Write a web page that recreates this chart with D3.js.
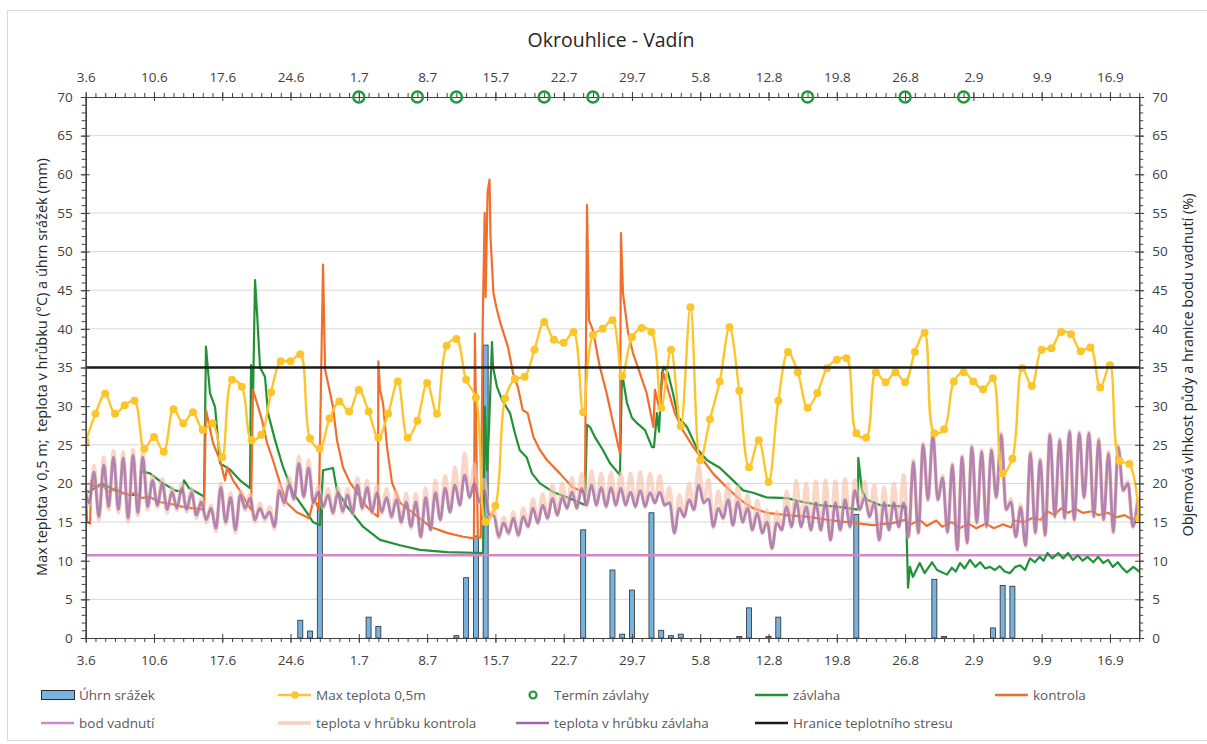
<!DOCTYPE html>
<html>
<head>
<meta charset="utf-8">
<script src="https://cdn.jsdelivr.net/npm/d3@7"></script>
<style>
  body { margin: 0; background: #fff; }
  svg { display: block; font-family: "Open Sans", "Liberation Sans", sans-serif; }
</style>
</head>
<body>
<div id="chart"></div>
<script>
// days are counted from 3.6.
var startDay = Date.UTC(2023, 5, 3);
var lastDay = 108;
var tickDays = [0, 7, 14, 21, 28, 35, 42, 49, 56, 63, 70, 77, 84, 91, 98, 105];
var tickLabels = ["3.6", "10.6", "17.6", "24.6", "1.7", "8.7", "15.7", "22.7", "29.7", "5.8", "12.8", "19.8", "26.8", "2.9", "9.9", "16.9"];
var yTicks = [0, 5, 10, 15, 20, 25, 30, 35, 40, 45, 50, 55, 60, 65, 70];
var gridValues = [5, 15, 20, 25, 35, 40, 45, 50, 55, 65];

// Úhrn srážek (mm)
var rainDays = [22, 23, 24, 29, 30, 38, 39, 40, 41, 51, 54, 55, 56, 58, 59, 60, 61, 67, 68, 70, 71, 79, 87, 88, 93, 94, 95];
var rainMm = [2.3, 0.9, 17.4, 2.7, 1.5, 0.3, 7.8, 13.2, 37.9, 14.0, 8.8, 0.5, 6.2, 16.2, 1.0, 0.3, 0.5, 0.2, 3.9, 0.2, 2.7, 16.0, 7.6, 0.2, 1.3, 6.8, 6.7];

// Max teplota 0,5m, one value a day
var maxTemp = [
  25.4, 29.0, 31.6, 29.0, 30.1, 30.7, 24.5, 26.0, 24.1, 29.6,
  27.8, 29.2, 26.9, 27.8, 23.4, 33.4, 32.5, 25.6, 26.3, 31.8,
  35.8, 35.8, 36.7, 25.8, 24.5, 28.4, 30.6, 29.3, 32.1, 29.3,
  25.9, 29.0, 33.2, 25.9, 28.1, 33.0, 29.0, 37.8, 38.7, 33.4,
  31.1, 15.0, 17.1, 31.0, 33.5, 33.8, 37.3, 40.9, 38.6, 38.2,
  39.6, 29.2, 39.2, 40.0, 41.1, 33.9, 38.9, 40.1, 39.6, 29.8,
  37.3, 27.4, 42.8, 23.0, 28.3, 33.2, 40.2, 32.0, 22.1, 25.6,
  20.2, 30.7, 37.0, 34.4, 29.8, 31.7, 34.9, 36.0, 36.2, 26.5,
  25.9, 34.4, 33.1, 34.4, 33.1, 37.0, 39.5, 26.5, 27.0, 33.2,
  34.4, 33.2, 32.2, 33.6, 21.3, 23.2, 34.9, 32.6, 37.3, 37.5,
  39.6, 39.3, 37.1, 37.6, 32.4, 35.3, 22.9, 22.5, 15.5
];

// Termín závlahy
var irrigationDays = [28, 34, 38, 47, 52, 74, 84, 90];

// teplota v hrůbku závlaha: daily peak (evening) and daily low (midday after)
var bedTempIrrMax = [
  20.0, 21.5, 22.4, 23.4, 23.3, 23.7, 23.4, 20.4, 20.0, 18.9,
  19.4, 18.8, 17.6, 16.8, 19.5, 18.2, 18.5, 18.1, 16.8, 16.3,
  19.1, 19.8, 22.6, 22.0, 18.9, 18.5, 18.8, 18.5, 19.8, 19.5,
  18.8, 18.2, 17.9, 17.6, 17.6, 18.2, 18.8, 19.4, 19.8, 21.1,
  20.0, 19.1, 15.8, 14.9, 15.5, 15.7, 16.8, 17.2, 18.1, 18.2,
  18.9, 19.4, 19.8, 19.5, 19.5, 19.4, 18.9, 19.1, 18.8, 18.9,
  17.5, 16.8, 17.9, 19.8, 18.0, 16.8, 17.9, 17.6, 16.8, 16.2,
  15.0, 14.9, 17.0, 17.6, 17.0, 17.5, 17.6, 17.5, 17.9, 19.1,
  18.2, 17.5, 17.5, 17.5, 17.5, 22.8, 25.0, 26.3, 20.7, 22.4,
  23.4, 24.7, 24.1, 24.3, 26.3, 17.6, 16.9, 23.9, 23.0, 26.3,
  25.6, 26.7, 26.5, 26.5, 25.6, 23.9, 24.7, 20.0, 17.9
];
var bedTempIrrMin = [
  17.5, 15.7, 17.0, 16.6, 15.5, 16.2, 17.0, 17.2, 16.6, 16.8,
  16.6, 15.9, 15.3, 14.2, 15.0, 14.0, 16.8, 15.3, 15.5, 14.4,
  17.5, 18.0, 18.3, 17.5, 17.0, 16.2, 16.4, 16.2, 16.8, 16.3,
  16.3, 15.7, 15.0, 14.4, 13.1, 14.0, 15.3, 16.3, 17.2, 18.2,
  17.6, 16.0, 13.1, 13.6, 13.3, 14.4, 14.9, 15.5, 15.9, 16.8,
  16.8, 17.2, 17.2, 17.0, 17.2, 17.2, 17.0, 17.0, 17.5, 17.2,
  13.6, 15.7, 16.6, 17.5, 14.4, 15.5, 14.6, 15.0, 14.0, 13.6,
  11.6, 14.0, 14.4, 14.4, 14.0, 14.0, 12.7, 14.0, 14.4, 16.6,
  15.7, 12.7, 14.0, 14.4, 13.1, 13.6, 17.9, 17.9, 13.7, 11.4,
  12.3, 14.9, 14.4, 18.2, 16.6, 13.1, 12.0, 13.6, 13.3, 15.7,
  15.5, 15.3, 18.2, 15.7, 15.3, 13.7, 19.1, 14.4
];

// teplota v hrůbku kontrola
var bedTempCtrlMax = [
  20.5, 22.3, 23.4, 24.2, 24.0, 24.4, 24.2,
  21.0, 20.6, 19.5, 20.0, 19.3, 18.0, 17.2,
  20.0, 18.8, 19.0, 18.6, 17.4, 17.0, 19.8,
  20.8, 23.5, 23.0, 19.6, 19.3, 19.5, 19.3,
  20.7, 20.4, 19.7, 19.3, 19.0, 18.7, 18.7,
  19.4, 20.4, 21.0, 22.1, 23.9, 22.5, 20.5,
  16.5, 15.6, 16.3, 16.8, 18.0, 18.6, 19.8,
  20.0, 20.7, 21.3, 21.6, 21.3, 21.4, 21.3,
  21.3, 21.5, 21.3, 21.0, 19.5, 18.5, 20.0,
  22.4, 20.5, 19.0, 20.0, 19.6, 18.5, 17.8,
  16.5, 16.3, 19.0, 20.4, 20.0, 20.3, 20.4,
  20.3, 20.6, 20.5, 20.3, 19.8, 19.5, 20.0,
  21.1, 23.0, 25.2, 26.5, 21.0, 22.6, 23.6,
  24.9, 24.3, 24.5, 26.5, 18.0, 17.3, 24.1,
  23.2, 26.5, 25.8, 26.9, 26.7, 26.7, 25.8,
  24.1, 24.9, 20.3, 18.2
];
var bedTempCtrlMin = [
  17.2, 15.3, 16.6, 16.2, 15.0, 15.8, 16.6,
  16.9, 16.2, 16.5, 16.3, 15.5, 14.9, 13.8,
  14.7, 13.6, 16.5, 15.0, 15.2, 14.1, 17.2,
  17.8, 18.1, 17.3, 16.8, 16.0, 16.2, 16.0,
  16.6, 16.1, 16.1, 15.5, 14.8, 14.2, 13.0,
  13.9, 15.2, 16.2, 17.1, 18.1, 17.5, 15.8,
  12.9, 13.4, 13.2, 14.3, 14.8, 15.4, 15.8,
  16.7, 16.7, 17.1, 17.1, 16.9, 17.1, 17.1,
  16.9, 16.9, 17.4, 17.1, 13.5, 15.6, 16.5,
  17.4, 14.3, 15.4, 14.5, 14.9, 13.9, 13.5,
  11.5, 13.9, 14.3, 14.3, 13.9, 13.9, 12.6,
  13.9, 14.3, 16.5, 15.6, 12.6, 13.9, 14.3,
  13.0, 13.5, 17.8, 17.8, 13.6, 11.3, 12.2,
  14.8, 14.3, 18.1, 16.5, 13.0, 11.9, 13.5,
  13.2, 15.6, 15.4, 15.2, 18.1, 15.6, 15.2,
  13.6, 19.0, 14.3
];

// závlaha: soil moisture (%), [day, value]
var moistIrr = [
  [0, 19.1], [0.34, 18.9], [1.67, 20.0], [3.0, 19.1], [4.44, 18.5], [5.57, 18.5], [5.67, 21.6],
  [6.59, 21.3], [7.82, 20.1], [9.15, 19.1], [9.87, 18.9], [10.08, 20.4], [10.59, 19.4], [12.13, 18.3],
  [12.33, 37.7], [12.74, 31.7], [13.26, 29.9], [13.77, 22.6], [14.79, 21.8], [15.82, 20.4], [16.84, 19.4],
  [16.95, 35.3], [17.15, 31.0], [17.36, 46.3], [17.56, 42.2], [17.87, 35.0], [18.38, 33.8], [18.69, 29.1],
  [19.41, 25.6], [20.23, 22.1], [21.25, 18.8], [22.69, 16.2], [23.3, 15.0], [24.02, 14.6], [24.33, 21.7],
  [25.35, 22.0], [25.76, 19.1], [26.79, 17.0], [28.43, 14.4], [30.17, 12.7], [32.22, 12.0], [34.27, 11.4],
  [37.04, 11.1], [40.73, 11.0], [40.93, 29.9], [41.14, 21.7], [41.34, 26.9], [41.65, 38.3], [41.75, 35.1],
  [42.16, 32.5], [42.68, 30.8], [43.5, 29.1], [44.0, 26.5], [44.5, 24.3], [45.2, 23.4], [45.75, 21.3],
  [46.57, 20.0], [47.9, 18.9], [49.34, 18.2], [51.18, 17.2], [51.39, 27.6], [51.7, 27.3], [52.2, 26.0],
  [53.03, 24.3], [53.75, 22.6], [54.77, 21.1], [54.98, 34.3], [55.49, 30.4], [56.0, 28.5], [56.52, 27.8],
  [57.34, 26.9], [58.05, 24.7], [58.26, 24.7], [58.56, 29.1], [58.77, 26.7], [59.08, 34.3], [59.28, 35.1],
  [59.69, 34.3], [60.2, 31.7], [60.72, 28.6], [61.64, 27.3], [62.67, 24.5], [63.7, 23.0], [65.03, 22.0],
  [66.36, 20.4], [67.4, 19.1], [68.4, 18.8], [69.8, 18.2], [71.9, 18.1], [73.5, 17.6], [75.27, 17.2],
  [77.0, 17.0], [79.17, 16.6], [79.2, 23.3], [79.58, 19.1], [80.1, 17.9], [81.42, 17.2], [84.09, 17.0],
  [84.3, 6.5], [84.5, 9.2], [84.8, 7.9], [85.5, 9.7], [86.0, 8.4], [86.76, 9.8], [87.27, 8.8],
  [88.3, 8.2], [88.8, 9.1], [89.2, 8.6], [89.63, 9.7], [90.1, 9.0], [90.65, 10.1], [91.2, 9.2],
  [91.7, 9.8], [92.2, 9.0], [92.7, 9.2], [93.2, 8.8], [93.7, 9.3], [94.2, 8.6], [94.76, 8.4],
  [95.3, 9.2], [95.8, 9.4], [96.3, 8.8], [96.8, 10.3], [97.3, 9.8], [97.8, 10.5], [98.2, 10.0],
  [98.6, 11.0], [99.1, 10.3], [99.7, 11.0], [100.2, 10.3], [100.7, 11.0], [101.2, 10.1], [101.7, 10.7],
  [102.2, 10.0], [102.7, 10.5], [103.3, 9.8], [103.8, 10.5], [104.3, 9.7], [104.8, 10.1], [105.3, 9.2],
  [105.8, 9.8], [106.3, 9.0], [106.75, 8.5], [107.4, 9.2], [108.1, 8.5]
];

// kontrola: soil moisture (%), [day, value]
var moistCtrl = [
  [0, 19.5], [0.15, 15.0], [0.45, 14.8], [0.55, 20.3], [0.95, 19.4], [1.67, 19.8], [2.39, 18.9],
  [3.0, 19.4], [3.72, 18.8], [4.44, 18.5], [5.05, 18.8], [5.77, 18.1], [6.49, 18.3], [7.51, 17.6],
  [8.54, 17.4], [9.87, 17.0], [10.9, 16.8], [12.13, 16.6], [12.33, 29.5], [13.06, 25.2], [13.77, 23.0],
  [14.28, 20.4], [14.5, 22.1], [15.1, 20.4], [15.8, 19.1], [16.5, 17.5], [16.95, 16.6], [17.15, 32.1],
  [17.56, 30.4], [18.07, 28.2], [18.6, 25.2], [19.2, 23.0], [19.9, 20.1], [20.6, 17.5], [21.6, 16.3],
  [22.9, 15.5], [23.4, 18.1], [23.9, 16.6], [24.33, 48.3], [24.54, 34.7], [24.84, 33.0], [25.35, 29.9],
  [25.76, 25.6], [26.37, 22.1], [27.1, 20.1], [27.8, 18.8], [28.8, 17.0], [29.45, 16.2], [29.96, 15.7],
  [30.0, 35.8], [30.17, 32.1], [30.48, 30.4], [30.89, 24.7], [31.4, 20.1], [32.22, 17.5], [33.55, 16.2],
  [35.3, 14.4], [37.04, 13.6], [38.7, 13.1], [39.8, 12.9], [39.9, 39.4], [40.05, 25.0], [40.2, 13.0],
  [40.5, 13.0], [40.7, 40.8], [40.9, 55.0], [41.0, 44.1], [41.2, 57.7], [41.4, 59.3], [41.5, 51.9],
  [41.8, 44.6], [42.1, 42.8], [42.5, 40.8], [43.3, 37.6], [43.8, 34.3], [44.3, 32.5], [44.8, 29.5],
  [45.3, 29.1], [45.9, 26.0], [46.57, 24.3], [47.3, 23.0], [48.6, 21.3], [49.9, 19.5], [51.18, 18.8],
  [51.39, 56.0], [51.6, 41.1], [52.0, 39.8], [52.7, 35.1], [53.4, 31.7], [54.0, 28.2], [54.77, 23.9],
  [54.87, 52.4], [55.08, 44.6], [55.6, 39.5], [56.1, 36.9], [56.8, 34.3], [57.5, 31.7], [58.2, 27.3],
  [58.36, 32.1], [58.77, 29.9], [59.2, 34.3], [59.7, 32.1], [60.4, 29.1], [61.2, 26.9], [62.3, 24.7],
  [63.3, 23.0], [64.3, 21.3], [65.7, 19.5], [67.07, 17.9], [68.4, 16.8], [69.8, 16.2], [71.9, 15.9],
  [73.9, 15.7], [76.0, 15.3], [78.7, 14.9], [80.7, 14.6], [82.8, 14.9], [84.0, 15.3], [84.6, 14.7],
  [85.5, 15.3], [86.2, 14.5], [87.2, 15.2], [87.8, 14.4], [88.8, 15.0], [89.6, 14.2], [90.5, 14.8],
  [91.3, 14.2], [92.3, 14.8], [93.1, 14.2], [94.0, 14.7], [94.9, 14.3], [95.1, 15.2], [96.2, 15.0],
  [97.0, 15.5], [97.9, 15.3], [98.6, 16.4], [99.3, 15.9], [100.0, 16.8], [100.7, 16.2], [101.5, 16.7],
  [102.2, 16.2], [103.2, 16.4], [103.8, 15.9], [104.8, 16.2], [105.6, 15.6], [106.5, 15.9], [107.2, 15.4],
  [108.1, 15.5]
];

var wiltingPoint = 10.7;   // bod vadnutí
var heatStress = 35;       // Hranice teplotního stresu

var colors = {
  rain: "#78b2df", yellow: "#fdc52c", irr: "#23983a", green: "#229238", orange: "#f26e2d",
  pink: "#cf8ac6", peach: "#f6c2aa", purple: "#9c68aa", black: "#1a1a1a"
};

function dayToDate(d) { return new Date(startDay + d * 864e5); }

var W = 1207, H = 744;
var plotL = 85.7, plotR = 1139.2, plotT = 97, plotB = 638;

var x = d3.scaleTime().domain([dayToDate(0), dayToDate(lastDay)]).range([plotL, plotR]);
var yL = d3.scaleLinear().domain([0, 70]).range([plotB, plotT]);
var yR = d3.scaleLinear().domain([0, 70]).range([plotB, plotT]);

var svg = d3.select("#chart").append("svg").attr("width", W).attr("height", H);

svg.append("rect").attr("x", 7.5).attr("y", 10.5).attr("width", W).attr("height", H - 14)
  .attr("fill", "#fff").attr("stroke", "#d9d9d9");

svg.append("defs").append("clipPath").attr("id", "plot-clip")
  .append("rect").attr("x", plotL).attr("y", plotT).attr("width", plotR - plotL).attr("height", plotB - plotT);

// gridlines
svg.append("g").selectAll("line").data(gridValues).enter().append("line")
  .attr("x1", plotL).attr("x2", plotR)
  .attr("y1", function(d) { return yL(d); }).attr("y2", function(d) { return yL(d); })
  .attr("stroke", "#d9d9d9").attr("stroke-width", 1);

var plot = svg.append("g").attr("clip-path", "url(#plot-clip)");

// rain bars
plot.append("g").selectAll("rect").data(rainDays).enter().append("rect")
  .attr("x", function(d) { return x(dayToDate(d)) - 2.5; })
  .attr("width", 5)
  .attr("y", function(d, i) { return yL(rainMm[i]); })
  .attr("height", function(d, i) { return yL(0) - yL(rainMm[i]); })
  .attr("fill", colors.rain).attr("stroke", "#2b2b2b").attr("stroke-width", 0.8);

function flatLine(v, scale) {
  return d3.line()([[x(dayToDate(0)), scale(v)], [x(dayToDate(lastDay)), scale(v)]]);
}

plot.append("path").attr("d", flatLine(wiltingPoint, yR))
  .attr("stroke", colors.pink).attr("stroke-width", 2.5).attr("fill", "none");

var moistLine = d3.line()
  .x(function(d) { return x(dayToDate(d[0])); })
  .y(function(d) { return yR(d[1]); });

plot.append("path").datum(moistIrr).attr("d", moistLine)
  .attr("fill", "none").attr("stroke", colors.green).attr("stroke-width", 2.2).attr("stroke-linejoin", "round");
plot.append("path").datum(moistCtrl).attr("d", moistLine)
  .attr("fill", "none").attr("stroke", colors.orange).attr("stroke-width", 2.2).attr("stroke-linejoin", "round");

// daily cycle of bed temperature: peak in the evening, low the next midday
function cyclePoints(maxArr, minArr) {
  var pts = [];
  maxArr.forEach(function(v, d) {
    pts.push([d - 0.15, v]);
    if (d < minArr.length) pts.push([d + 0.35, minArr[d]]);
  });
  return pts;
}
var tempLine = d3.line()
  .x(function(d) { return x(dayToDate(d[0])); })
  .y(function(d) { return yL(d[1]); })
  .curve(d3.curveMonotoneX);

plot.append("path").datum(cyclePoints(bedTempCtrlMax, bedTempCtrlMin)).attr("d", tempLine)
  .attr("fill", "none").attr("stroke", colors.peach).attr("stroke-width", 3.8).attr("opacity", 0.65);
plot.append("path").datum(cyclePoints(bedTempIrrMax, bedTempIrrMin)).attr("d", tempLine)
  .attr("fill", "none").attr("stroke", colors.purple).attr("stroke-width", 2.8).attr("opacity", 0.75);

// max temperature
var maxLine = d3.line()
  .x(function(d, i) { return x(dayToDate(i)); })
  .y(function(d) { return yL(d); })
  .curve(d3.curveCatmullRom.alpha(0.5));
plot.append("path").datum(maxTemp).attr("d", maxLine)
  .attr("fill", "none").attr("stroke", colors.yellow).attr("stroke-width", 2.4);
plot.append("g").selectAll("circle").data(maxTemp).enter().append("circle")
  .attr("cx", function(d, i) { return x(dayToDate(i)); })
  .attr("cy", function(d) { return yL(d); })
  .attr("r", 4).attr("fill", colors.yellow);

plot.append("path").attr("d", flatLine(heatStress, yL))
  .attr("stroke", colors.black).attr("stroke-width", 2.5).attr("fill", "none");

// axes
var axisColor = "#404040";
function styleAxis(g) {
  g.selectAll("path,line").attr("stroke", axisColor);
  g.selectAll("text").attr("fill", "#404040").attr("font-size", "13.5px").attr("font-family", "'Open Sans','Liberation Sans',sans-serif");
}
var yMinor = d3.range(0, 71, 1);
var xMinor = d3.range(0, lastDay + 1, 1).map(dayToDate);
var xMajor = tickDays.map(dayToDate);
function xFormat(d, i) { return tickLabels[i]; }

svg.append("g").attr("transform", "translate(" + plotL + ",0)")
  .call(d3.axisLeft(yL).tickValues(yMinor).tickSize(4).tickFormat("").tickSizeOuter(0)).call(styleAxis);
svg.append("g").attr("transform", "translate(" + plotL + ",0)")
  .call(d3.axisRight(yL).tickValues(yTicks).tickSize(4).tickFormat("").tickSizeOuter(0)).call(styleAxis);
svg.append("g").attr("transform", "translate(" + plotL + ",0)")
  .call(d3.axisLeft(yL).tickValues(yTicks).tickSize(5).tickPadding(8).tickSizeOuter(0)).call(styleAxis);

svg.append("g").attr("transform", "translate(" + plotR + ",0)")
  .call(d3.axisRight(yR).tickValues(yMinor).tickSize(4).tickFormat("").tickSizeOuter(0)).call(styleAxis);
svg.append("g").attr("transform", "translate(" + plotR + ",0)")
  .call(d3.axisLeft(yR).tickValues(yTicks).tickSize(4).tickFormat("").tickSizeOuter(0)).call(styleAxis);
svg.append("g").attr("transform", "translate(" + plotR + ",0)")
  .call(d3.axisRight(yR).tickValues(yTicks).tickSize(5).tickPadding(8).tickSizeOuter(0)).call(styleAxis);

svg.append("g").attr("transform", "translate(0," + plotB + ")")
  .call(d3.axisBottom(x).tickValues(xMinor).tickSize(4).tickFormat("").tickSizeOuter(0)).call(styleAxis);
svg.append("g").attr("transform", "translate(0," + plotB + ")")
  .call(d3.axisTop(x).tickValues(xMajor).tickSize(4).tickFormat("").tickSizeOuter(0)).call(styleAxis);
svg.append("g").attr("transform", "translate(0," + plotB + ")")
  .call(d3.axisBottom(x).tickValues(xMajor).tickSize(5).tickPadding(12).tickFormat(xFormat).tickSizeOuter(0)).call(styleAxis);

svg.append("g").attr("transform", "translate(0," + plotT + ")")
  .call(d3.axisTop(x).tickValues(xMinor).tickSize(4).tickFormat("").tickSizeOuter(0)).call(styleAxis);
svg.append("g").attr("transform", "translate(0," + plotT + ")")
  .call(d3.axisBottom(x).tickValues(xMajor).tickSize(4).tickFormat("").tickSizeOuter(0)).call(styleAxis);
svg.append("g").attr("transform", "translate(0," + plotT + ")")
  .call(d3.axisTop(x).tickValues(xMajor).tickSize(5).tickPadding(10).tickFormat(xFormat).tickSizeOuter(0)).call(styleAxis);

// irrigation markers on the top edge
svg.append("g").selectAll("circle").data(irrigationDays).enter().append("circle")
  .attr("cx", function(d) { return x(dayToDate(d)); })
  .attr("cy", yL(70))
  .attr("r", 5.5).attr("fill", "none").attr("stroke", colors.irr).attr("stroke-width", 2.5);

// titles
svg.append("text").attr("x", 611).attr("y", 47).attr("text-anchor", "middle")
  .attr("font-size", "19.5px").attr("fill", "#262626").text("Okrouhlice - Vadín");

svg.append("text").attr("transform", "translate(47,367) rotate(-90)").attr("text-anchor", "middle")
  .attr("font-size", "14.5px").attr("fill", "#262626").attr("xml:space", "preserve")
  .text("Max teplota v 0,5 m;  teplota v hrůbku (°C) a úhrn srážek (mm)");
svg.append("text").attr("transform", "translate(1193,365) rotate(-90)").attr("text-anchor", "middle")
  .attr("font-size", "14.5px").attr("fill", "#262626")
  .text("Objemová vlhkost půdy a hranice bodu vadnutí (%)");

// legend
var legendItems = [
  { label: "Úhrn srážek", type: "bar", color: colors.rain, col: 0, row: 0 },
  { label: "Max teplota 0,5m", type: "dotline", color: colors.yellow, col: 1, row: 0 },
  { label: "Termín závlahy", type: "ring", color: colors.irr, col: 2, row: 0 },
  { label: "závlaha", type: "line", color: colors.green, col: 3, row: 0 },
  { label: "kontrola", type: "line", color: colors.orange, col: 4, row: 0 },
  { label: "bod vadnutí", type: "line", color: colors.pink, col: 0, row: 1 },
  { label: "teplota v hrůbku kontrola", type: "line", color: colors.peach, col: 1, row: 1 },
  { label: "teplota v hrůbku závlaha", type: "line", color: colors.purple, col: 2, row: 1 },
  { label: "Hranice teplotního stresu", type: "line", color: colors.black, col: 3, row: 1 }
];
var legendCols = [41, 278, 516, 755, 995];
var legendRows = [695, 723];

var lg = svg.append("g").selectAll("g").data(legendItems).enter().append("g")
  .attr("transform", function(d) { return "translate(" + legendCols[d.col] + "," + legendRows[d.row] + ")"; });

lg.each(function(d) {
  var g = d3.select(this);
  if (d.type === "bar") {
    g.append("rect").attr("x", 0.5).attr("y", -4.5).attr("width", 33).attr("height", 9)
      .attr("fill", d.color).attr("stroke", "#2b2b2b").attr("stroke-width", 1);
  } else if (d.type === "ring") {
    g.append("circle").attr("cx", 17).attr("cy", 0).attr("r", 3.5)
      .attr("fill", "none").attr("stroke", d.color).attr("stroke-width", 2.2);
  } else {
    g.append("line").attr("x1", 0).attr("x2", 33).attr("y1", 0).attr("y2", 0)
      .attr("stroke", d.color).attr("stroke-width", d.color === colors.peach ? 3.5 : 2.5)
      .attr("opacity", d.color === colors.peach ? 0.75 : 1);
    if (d.type === "dotline") g.append("circle").attr("cx", 17).attr("cy", 0).attr("r", 3.8).attr("fill", d.color);
  }
  g.append("text").attr("x", 38).attr("y", 0).attr("dy", "0.35em")
    .attr("font-size", "13.5px").attr("fill", "#595959").text(d.label);
});
</script>
</body>
</html>
